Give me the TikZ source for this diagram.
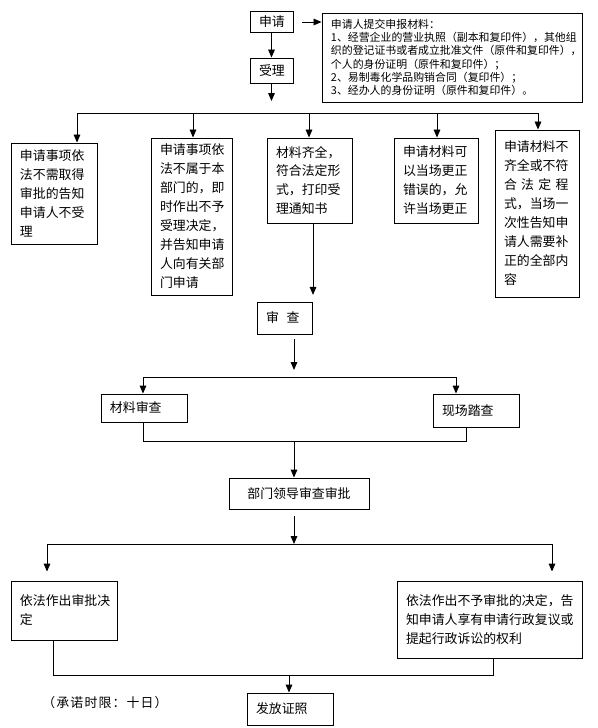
\documentclass[tikz,border=0pt]{standalone}
\usepackage{fontspec}
\setmainfont{Noto Sans CJK SC}
\usetikzlibrary{arrows.meta}

\begin{document}
\begin{tikzpicture}[x=0.03cm, y=-0.03cm, line width=0.8pt,
	box/.style={draw, inner xsep=0.27cm, inner ysep=0.1cm, align=left, font=\fontsize{11}{16.2}\selectfont},
	arr/.style={-{Triangle[length=0.24cm,width=0.2cm]}}]
	\useasboundingbox (0,0) rectangle (598,728);
	\node[box, text width=0.75cm, minimum height=0.63cm] (shenqing) at (271.5,22) {申请};
	\node[box, text width=0.75cm, minimum height=0.75cm] (shouli) at (271.5,70.5) {受理};
	\node[box, text width=7.26cm, minimum height=2.67cm, font=\fontsize{9.3}{11.3}\selectfont] (cailiao) at (452,57.5) {申请人提交申报材料：\\1、经营企业的营业执照（副本和复印件），其他组\\织的登记证书或者成立批准文件（原件和复印件），\\个人的身份证明（原件和复印件）；\\2、易制毒化学品购销合同（复印件）；\\3、经办人的身份证明（原件和复印件）。};
	\node[box, text width=2.04cm, minimum height=3.03cm] (b1) at (54,193.5) {申请事项依\\法不需取得\\审批的告知\\申请人不受\\理};
	\node[box, text width=1.89cm, minimum height=4.71cm] (b2) at (191.5,216.5) {申请事项依\\法不属于本\\部门的，即\\时作出不予\\受理决定，\\并告知申请\\人向有关部\\门申请};
	\node[box, text width=2.01cm, minimum height=2.55cm] (b3) at (309.5,180.5) {材料齐全，\\符合法定形\\式，打印受\\理通知书};
	\node[box, text width=1.98cm, minimum height=2.55cm] (b4) at (436,180.5) {申请材料可\\以当场更正\\错误的，允\\许当场更正};
	\node[box, text width=1.98cm, minimum height=5.01cm] (b5) at (537,213.5) {申请材料不\\齐全或不符\\\makebox[5em][s]{合\hfill 法\hfill 定\hfill 程}\\式，当场一\\次性告知申\\请人需要补\\正的全部内\\容};
	\node[box, text width=1.11cm, minimum height=0.96cm] (shencha) at (284.5,318) {审\hspace{0.6em}查};
	\node[box, text width=2.04cm, minimum height=0.84cm] (clsc) at (144,408) {材料审查};
	\node[box, text width=2.04cm, minimum height=0.99cm] (xcct) at (476,410.5) {现场踏查};
	\node[box, align=center, minimum width=4.2cm, minimum height=0.93cm] (bmld) at (299,493.5) {部门领导审查审批};
	\node[box, text width=2.64cm, minimum height=1.77cm] (yfzc) at (64,610.5) {依法作出审批决\\定};
	\node[box, text width=5.01cm, minimum height=2.31cm] (bysp) at (489.5,619.5) {依法作出不予审批的决定，告\\知申请人享有申请行政复议或\\提起行政诉讼的权利};
	\node[box, text width=2.04cm, minimum height=0.96cm] (ffzz) at (290,709) {发放证照};
	\node[anchor=west, inner sep=0, font=\fontsize{11}{13}\selectfont] (limit) at (42,703) {\makebox[3.75cm][s]{（\hfill 承\hfill 诺\hfill 时\hfill 限\hfill ：\hfill 十\hfill 日\hfill ）}};
	\coordinate (top) at (271.5,101);
	\coordinate (mid) at (294,370);
	\coordinate (low) at (294,544);
	\draw[arr, shorten <=0.27cm] (shenqing.east) -- (cailiao.west |- shenqing.east);
	\draw[arr] (shenqing.south) -- (shouli.north);
	\draw[arr] (shouli.south) -- (top);
	\draw (77,113) -- (538,113);
	\foreach \x/\b in {77/b1,193/b2,309/b3,437/b4,538/b5}
		\draw[arr] (\x,113) -- (\x,113 |- \b.north);
	\draw[arr, shorten >=0.2cm] (b3.south -| 313,0) -- (shencha.north -| 313,0);
	\draw[arr, shorten <=0.15cm] (shencha.south -| mid) -- (mid);
	\draw (143,377) -- (456,377);
	\draw[arr] (143,377) -- (143,377 |- clsc.north);
	\draw[arr] (456,377) -- (456,377 |- xcct.north);
	\draw (clsc.south -| 143,0) |- (466,441) -- (xcct.south -| 466,0);
	\draw[arr] (294,441) -- (bmld.north -| 294,0);
	\draw[arr, shorten <=0.21cm] (bmld.south -| low) -- (low);
	\draw (47,544) -- (552,544);
	\foreach \x/\b in {47/yfzc,552/bysp}
		\draw[arr, shorten >=0.27cm] (\x,544) -- (\x,544 |- \b.north);
	\draw (yfzc.south -| 53,0) |- (493,675) -- (bysp.south -| 493,0);
	\draw[arr] (289,675) -- (ffzz.north -| 289,0);
\end{tikzpicture}
\end{document}
